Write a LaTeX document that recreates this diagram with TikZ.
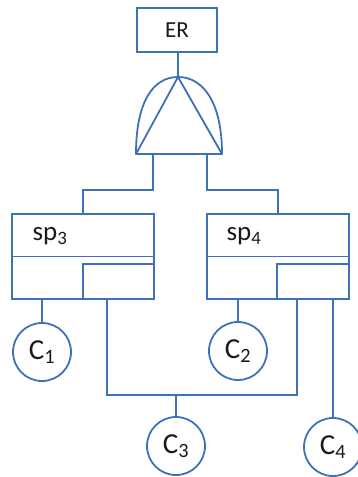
\documentclass[tikz,border=0pt]{standalone}
\usepackage{fontspec}
\setmainfont{Carlito}
\usetikzlibrary{positioning,calc}
\definecolor{Wire}{HTML}{3D72B8}
\definecolor{Ink}{HTML}{1A1A1A}
\tikzset{
 wire/.style={draw=Wire,line width=1.8pt},
 topbox/.style={wire,rectangle,minimum width=80pt,minimum height=44pt,inner sep=0pt,text=Ink,font=\fontsize{23}{26}\selectfont},
 spbox/.style={wire,rectangle,minimum width=142pt,minimum height=85pt,inner sep=0pt},
 portbox/.style={wire,rectangle,minimum height=35pt,inner sep=0pt},
 splabel/.style={text=Ink,inner sep=0pt,font=\fontsize{27}{30}\selectfont},
 comp/.style={wire,circle,minimum size=58pt,inner sep=0pt,text=Ink,font=\fontsize{29}{32}\selectfont}
}
\begin{document}
\begin{tikzpicture}[x=1pt,y=-1pt]
\useasboundingbox (0,0) rectangle (357,477);
% top event and gate
\node[topbox] (er) at (177,30) {ER};
\coordinate (gtop) at (178,77);
\coordinate (gl) at (136,154);
\coordinate (gr) at (222,154);
\draw[wire,line join=round] (gl) .. controls (136,102) and (153,77) .. (gtop) .. controls (203,77) and (222,102) .. (gr) -- cycle;
\draw[wire,line join=round] (gl) -- (gtop) -- (gr);
\draw[wire] (er.south -| gtop) -- (gtop);
\coordinate (gin1) at (153,154);
\coordinate (gin2) at (207,154);
% subsystems
\node[spbox] (sp3) at (83,256.5) {};
\node[spbox] (sp4) at (278,256.5) {};
\draw[wire] (sp3.west) -- (sp3.east);
\draw[wire] (sp4.west) -- (sp4.east);
\node[portbox,minimum width=71pt] (sp3p) at (118.5,281.5) {};
\node[portbox,minimum width=72pt] (sp4p) at (313,281.5) {};
\node[splabel] (lab3) at (50,236) {sp\textsubscript{3}};
\node[splabel] (lab4) at (244,236) {sp\textsubscript{4}};
\draw[wire] (gin1) -- (153,190) -| (sp3.north);
\draw[wire] (gin2) -- (207,190) -| (sp4.north);
% components
\node[comp] (c1) at (42,352) {C\textsubscript{1}};
\node[comp] (c2) at (238,351) {C\textsubscript{2}};
\node[comp] (c3) at (176,446) {C\textsubscript{3}};
\node[comp] (c4) at (333,447) {C\textsubscript{4}};
\draw[wire] (sp3.south -| c1) -- (c1.north);
\draw[wire] (sp4.south -| c2) -- (c2.north);
\draw[wire] (sp4.south -| c4) -- (c4.north);
\coordinate (bus) at (176,395);
\draw[wire] (107,299) |- (bus) -| (297,299);
\draw[wire] (bus) -- (c3.north);
\end{tikzpicture}
\end{document}
